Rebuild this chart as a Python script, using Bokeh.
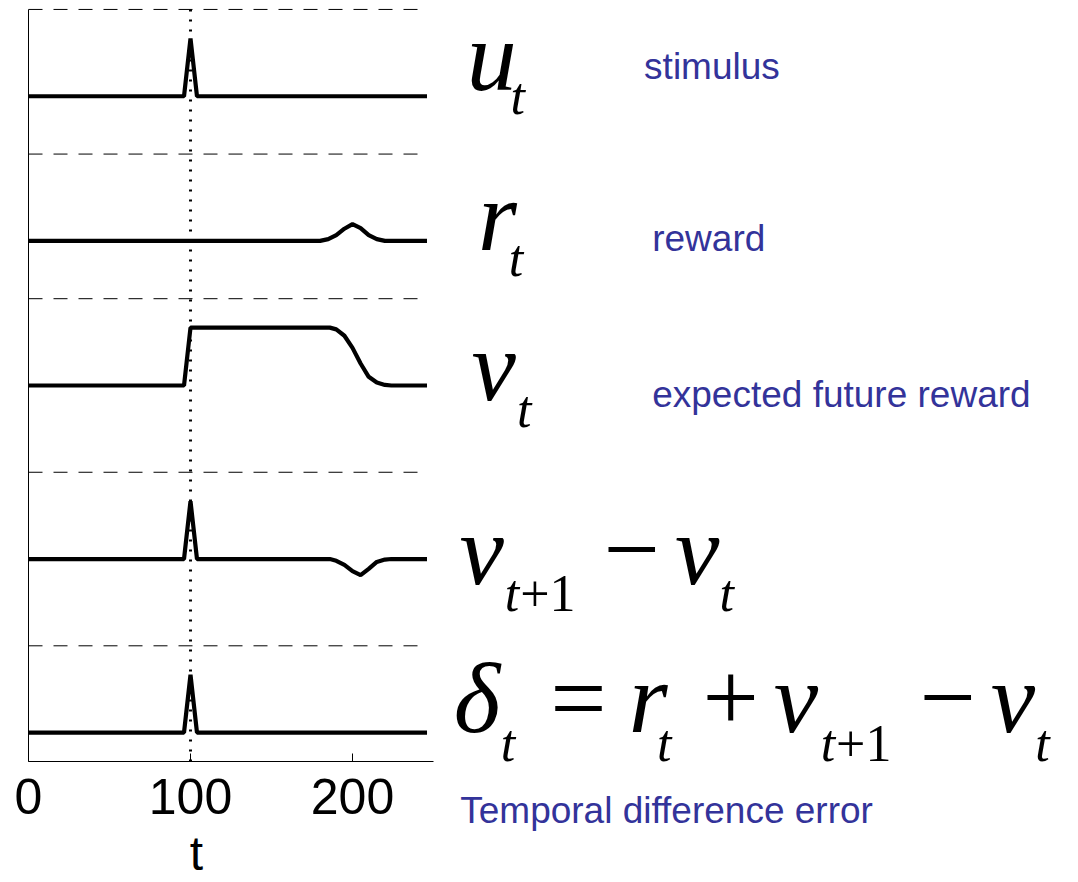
from bokeh.plotting import figure
from bokeh.models import Range1d, FixedTicker, Label, ColumnDataSource
from bokeh.transform import dodge
from bokeh.embed import file_html
from bokeh.resources import INLINE

# ---- signals of the temporal-difference example (time steps) ----
t_u = [0, 96, 100, 104, 246]
u = [0, 0, 1, 0, 0]                      # stimulus u_t

t_r = [0, 180, 185, 190, 195, 200, 205, 210, 215, 220, 246]
r = [0, 0, 0.03, 0.10, 0.21, 0.29, 0.22, 0.10, 0.03, 0, 0]   # reward r_t

t_v = [0, 96, 100, 186, 190, 195, 200, 205, 210, 215, 220, 224, 246]
v = [0, 0, 1, 1, 0.97, 0.86, 0.65, 0.38, 0.15, 0.05, 0.01, 0, 0]  # expected future reward v_t

t_dv = [0, 96, 100, 104, 186, 190, 195, 200, 205, 210, 215, 220, 224, 246]
dv = [0, 0, 1, 0, 0, -0.03, -0.10, -0.21, -0.28, -0.17, -0.05, -0.01, 0, 0]  # v_{t+1} - v_t

t_delta = [0, 96, 100, 104, 246]
delta = [0, 0, 1, 0, 0]                  # TD error delta_t

x_ticks = [0, 100, 200]
event_time = 100

# ---- layout of the stacked traces ----
row_base = [11.5, 9.0, 6.5, 3.5, 0.5]     # baseline of each trace
row_sep = [13.0, 10.5, 8.0, 5.0, 2.0]     # dashed separators above each trace
y_top = 13.0
W, H = 1078, 882
origin_px = (28, 761)                     # canvas position of (t=0, y=0)
px_per_t = 1.62
px_per_unit = 57.85

x_lo = -origin_px[0] / px_per_t
x_hi = (W - origin_px[0]) / px_per_t
y_lo = -(H - origin_px[1]) / px_per_unit
y_hi = origin_px[1] / px_per_unit

p = figure(width=W, height=H, output_backend="svg", toolbar_location=None,
           x_range=Range1d(x_lo, x_hi), y_range=Range1d(y_lo, y_hi),
           min_border=0)
p.outline_line_color = None
p.grid.visible = False
p.background_fill_color = "white"
p.border_fill_color = "white"

# bottom axis, pinned at y=0 and limited to the time span
xa = p.xaxis[0]
xa.fixed_location = 0
xa.bounds = (0, 250)
xa.ticker = FixedTicker(ticks=x_ticks)
xa.major_tick_in = 8
xa.major_tick_out = 0
xa.minor_tick_line_color = None
xa.axis_line_color = "black"
xa.major_tick_line_color = "black"
xa.major_label_text_font = "Liberation Sans"
xa.major_label_text_font_size = "50px"
xa.major_label_text_color = "black"
xa.major_label_standoff = 17

# left axis line, no ticks
ya = p.yaxis[0]
ya.fixed_location = 0
ya.bounds = (0, y_top)
ya.ticker = FixedTicker(ticks=[])
ya.minor_tick_line_color = None
ya.major_tick_line_color = None
ya.axis_line_color = "black"

# dashed separators
p.segment(x0=0, x1=246, y0=row_sep, y1=row_sep, line_color="black",
          line_width=1, line_dash="14 11")

# dotted marker at stimulus onset
p.segment(x0=[event_time], x1=[event_time], y0=[0], y1=[y_top],
          line_color="black", line_width=3, line_dash="2 8")

series = [(t_u, u), (t_r, r), (t_v, v), (t_dv, dv), (t_delta, delta)]
for (tt, yy), base in zip(series, row_base):
    src = ColumnDataSource(dict(t=tt, y=yy))
    p.line(x="t", y=dodge("y", base), source=src, line_color="black",
           line_width=4.2)

BIG = 100
SUB = 52
TXT = 37
BLUE = "#33339a"
BASE_SHIFT = 0.37   # alphabetic-baseline correction, fraction of font size


def put(x, y, text, size, italic=True, font="Liberation Serif",
        color="black", align="left"):
    p.add_layout(Label(x=x, y=y + BASE_SHIFT * size / px_per_unit, text=text,
                       text_font=font,
                       text_font_style="italic" if italic else "normal",
                       text_font_size=f"{size}px", text_color=color,
                       text_baseline="alphabetic", text_align=align))


# u_t
put(270.5, 11.55, "u", BIG)
put(297.5, 11.17, "t", SUB)
put(380.0, 11.78, "stimulus", TXT, False, "Liberation Sans", BLUE)

# r_t
put(277.5, 8.78, "r", BIG)
put(296.5, 8.37, "t", SUB)
put(385.0, 8.80, "reward", TXT, False, "Liberation Sans", BLUE)

# v_t
put(273.5, 6.19, "v", BIG)
put(301.5, 5.76, "t", SUB)
put(385.0, 6.11, "expected future reward", TXT, False, "Liberation Sans", BLUE)

# v_{t+1} - v_t
put(266.0, 3.01, "v", BIG)
put(294.0, 2.58, "t", SUB)
put(303.5, 2.58, "+1", SUB, False)
put(355.0, 3.01, "\u2212", BIG, False)
put(399.0, 3.01, "v", BIG)
put(426.5, 2.58, "t", SUB)

# delta_t = r_t + v_{t+1} - v_t
put(262.5, 0.45, "\u03b4", BIG)
put(291.5, -0.02, "t", SUB)
put(322.0, 0.45, "=", BIG, False)
put(370.5, 0.45, "r", BIG)
put(388.0, -0.02, "t", SUB)
put(416.0, 0.45, "+", BIG, False)
put(460.0, 0.45, "v", BIG)
put(489.0, -0.02, "t", SUB)
put(498.5, -0.02, "+1", SUB, False)
put(550.0, 0.45, "\u2212", BIG, False)
put(594.0, 0.45, "v", BIG)
put(621.5, -0.02, "t", SUB)
put(266.5, -1.09, "Temporal difference error", TXT, False,
    "Liberation Sans", BLUE)

# time axis name
put(103.7, -1.90, "t", 48, False, "Liberation Sans", "black", "center")

open("out.html", "w").write(file_html(p, INLINE))
